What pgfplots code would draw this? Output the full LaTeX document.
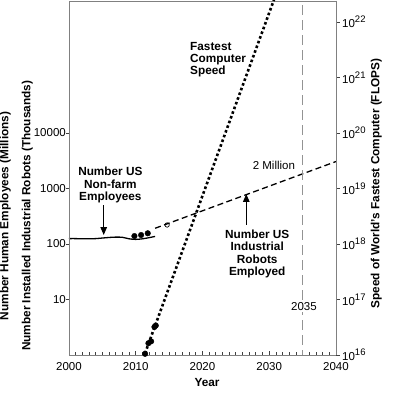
\documentclass[border=0pt]{standalone}
\usepackage{fontspec}
\setmainfont{Liberation Sans}
\usepackage{pgfplots}
\pgfplotsset{compat=1.18}
\usetikzlibrary{arrows.meta}

\newcommand{\lbl}{\fontsize{11.8}{12.3}\selectfont\bfseries}
\newcommand{\tck}{\fontsize{11.5}{13}\selectfont}
\newcommand{\sups}[1]{10\raisebox{0.45em}{\fontsize{9.5}{10}\selectfont #1}}

\begin{document}
\begin{tikzpicture}
% ---------- main axis: frame, x axis, left tick labels, left-scale data ----------
\begin{axis}[scale only axis, width=267pt, height=354pt,
  xmin=2000, xmax=2040, ymode=log, ymin=1, ymax=2.388e6,
  name=main,
  axis line style={draw=gray, line width=0.9pt},
  tick style={black!75, line width=0.8pt},
  xtick={2000,2010,2020,2030,2040},
  xticklabels={2000,2010,2020,2030,2040},
  minor x tick num=9, tick align=inside,
  major tick length=4.5pt, minor tick length=2.8pt,
  xtick pos=left, ytick pos=left,
  ytick={10,100,1000,10000},
  yticklabels={{10},{100},{1000},{10000}},
  ytick style={draw=none}, yminorticks=false,
  yticklabel style={font=\tck, inner sep=2pt, xshift=-1pt},
  xticklabel style={font=\tck},
  xticklabel shift=4pt,
  xlabel={Year},
  xlabel style={font=\lbl, at={(axis description cs:0.517,-0.0876)}, anchor=base},
]
% US non-farm employees (millions)
\addplot[black, line width=1.3pt, smooth] coordinates {
  (2000,125) (2001,125) (2002,124) (2003,124) (2004,125) (2005,128)
  (2006,131) (2007,133) (2008,132) (2009,124) (2010,121) (2011,124)
  (2012,130) (2012.9,137)};
% installed robots (thousands)
\addplot[only marks, mark=*, mark size=2.8pt, black] coordinates {
  (2009.8,139) (2010.8,145) (2011.8,156)};
% robot projection
\addplot[black, line width=1.3pt, dash pattern=on 6pt off 3.5pt] coordinates {
  (2012.9,192) (2040,3060)};
\addplot[only marks, mark=o, mark size=2.2pt, black, line width=0.7pt] coordinates {
  (2014.7,220)};
% 2035 marker line
\addplot[gray!85, line width=1.2pt, dash pattern=on 10pt off 5pt] coordinates {
  (2035,2e6) (2035,1)};
% arrows
\addplot[black, line width=1.3pt, -{Triangle[length=8pt,width=6.5pt]}] coordinates {
  (2005.2,504) (2005.2,145)};
\addplot[black, line width=1.3pt, -{Triangle[length=8pt,width=6.5pt]}] coordinates {
  (2026.56,220) (2026.56,796)};
% annotations
\node[font=\lbl, align=left, anchor=west, inner sep=0pt] at (axis cs:2018.13,2.11e5)
  {Fastest\\Computer\\Speed};
\node[font=\lbl, align=center, inner sep=0pt] at (axis cs:2006.2,1157)
  {Number US\\Non-farm\\Employees};
\node[font=\lbl, align=center, inner sep=0pt] at (axis cs:2028.2,66)
  {Number US\\Industrial\\Robots\\Employed};
\node[font=\tck, fill=white, inner sep=1pt] at (axis cs:2030.7,2650) {2 Million};
\node[font=\tck, fill=white, inner sep=1pt] at (axis cs:2035.2,7.33) {2035};
\end{axis}
% ---------- left y axis: outward ticks and label ----------
\begin{axis}[scale only axis, width=267pt, height=354pt,
  xmin=2000, xmax=2040, ymode=log, ymin=1, ymax=2.388e6,
  hide x axis, ytick pos=left,
  axis line style={draw=gray, line width=0.9pt},
  tick style={black!75, line width=0.8pt},
  ytick={10,100,1000,10000},
  yticklabels={},
  yminorticks=false,
  tick align=outside, major tick length=3pt,
  ylabel={Number Human Employees (Millions)\\Number Installed Industrial Robots (Thousands)},
  ylabel style={font=\fontsize{11.8}{22}\selectfont\bfseries, align=center,
    at={(axis description cs:-0.1345,0.393)}, anchor=south, inner sep=0pt},
]
\end{axis}
% ---------- right y axis: computer speed ----------
\begin{axis}[scale only axis, width=267pt, height=354pt,
  xmin=2000, xmax=2040, ymode=log, ymin=1e16, ymax=2.388e22,
  hide x axis, ytick pos=right, yticklabel pos=right,
  axis line style={draw=gray, line width=0.9pt},
  tick style={black!75, line width=0.8pt},
  ytick={1e16,1e17,1e18,1e19,1e20,1e21,1e22},
  yticklabels={\sups{16},\sups{17},\sups{18},\sups{19},\sups{20},\sups{21},\sups{22}},
  yminorticks=false,
  tick align=outside, major tick length=3.5pt,
  yticklabel style={font=\tck, inner sep=2.5pt},
  ylabel={Speed of World's Fastest Computer (FLOPS)},
  ylabel style={font=\lbl, at={(axis description cs:1.172,0.484)}, anchor=south,
    inner sep=0pt},
]
\addplot[black, line width=2.6pt, dash pattern=on 2.6pt off 2.4pt] coordinates {
  (2011.39,1.07e16) (2031,3.14e22)};
\addplot[only marks, mark=*, mark size=2.8pt, black] coordinates {
  (2011.4,1.05e16) (2011.9,1.63e16) (2012.3,1.76e16) (2012.8,3.2e16) (2013.0,3.39e16)};
\end{axis}
\pgfresetboundingbox
\path[use as bounding box] ([xshift=-69pt,yshift=-38pt]main.south west)
  rectangle ([xshift=64pt,yshift=1pt]main.north east);
\end{tikzpicture}
\end{document}
